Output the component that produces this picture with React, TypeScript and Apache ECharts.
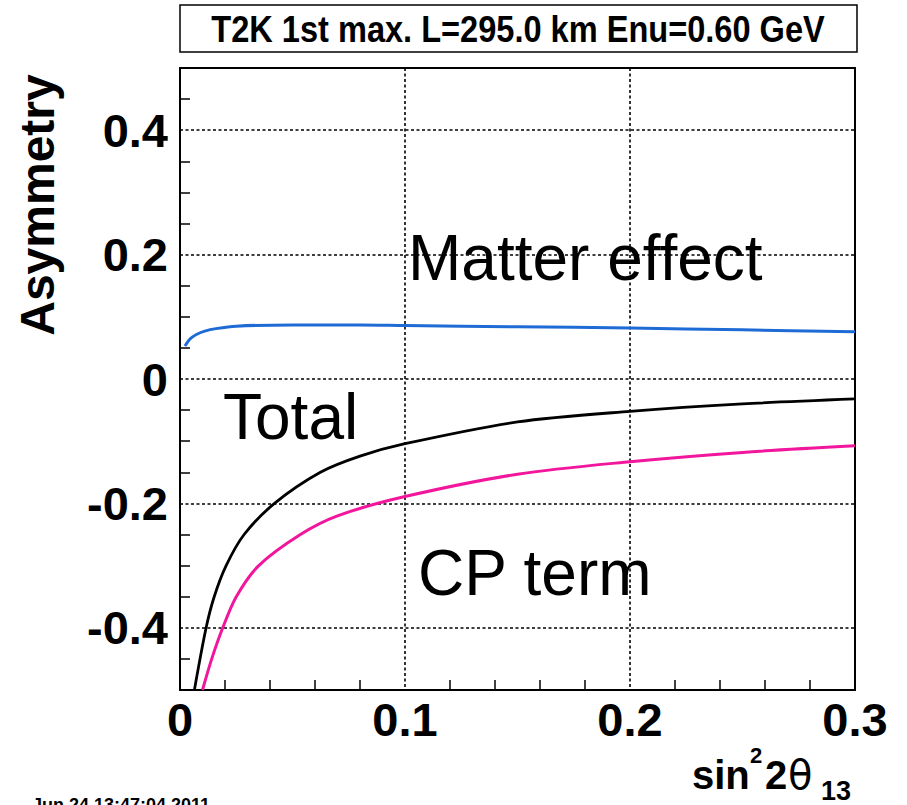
import React, { useEffect, useRef } from "react";
import * as echarts from "echarts";

// Matter effect (blue)
const matterX = [0.0022, 0.0035, 0.005, 0.0075, 0.011, 0.016, 0.025, 0.05, 0.08, 0.1, 0.15, 0.2, 0.25, 0.3];
const matterY = [0.053, 0.060, 0.066, 0.072, 0.077, 0.081, 0.085, 0.087, 0.087, 0.086, 0.084, 0.082, 0.079, 0.076];

// Total (black)
const totalX = [0.0064, 0.0116, 0.0152, 0.0205, 0.0285, 0.042, 0.0624, 0.08, 0.1, 0.15, 0.2, 0.25, 0.3];
const totalY = [-0.5, -0.4, -0.35, -0.3, -0.25, -0.2, -0.15, -0.124, -0.104, -0.069, -0.052, -0.04, -0.032];

// CP term (magenta)
const cpX = [0.0100, 0.0141, 0.0190, 0.0250, 0.0350, 0.0535, 0.070, 0.1, 0.15, 0.2, 0.25, 0.3];
const cpY = [-0.5, -0.45, -0.4, -0.35, -0.3, -0.25, -0.22, -0.189, -0.153, -0.133, -0.118, -0.1075];

const xTickLabels = [0, 0.1, 0.2, 0.3];
const yTickLabels = [-0.4, -0.2, 0, 0.2, 0.4];

const titleText = "T2K 1st max. L=295.0 km Enu=0.60 GeV";
const yTitle = "Asymmetry";
const dateText = "Jun 24 13:47:04 2011";

const zip = (xs: number[], ys: number[]) => xs.map((x, i) => [x, ys[i]]);
const FONT = '"Liberation Sans", Arial, Helvetica, sans-serif';

export default function App() {
  const ref = useRef<HTMLDivElement>(null);
  useEffect(() => {
    if (!ref.current) return;
    const chart = echarts.init(ref.current, null, { renderer: "svg" });
    const labelStyle = {
      fontSize: 47,
      fontWeight: "bold" as const,
      fontFamily: FONT,
      color: "#000",
    };
    const gridLine = { show: true, lineStyle: { color: "#000", width: 1.6, type: [3, 2.5] as any } };
    const tickStyle = { color: "#000", width: 1.5 };
    const SMOOTH = 0.3;
    chart.setOption({
      animation: false,
      backgroundColor: "#fff",
      grid: {
        left: 180,
        right: 52,
        top: 68,
        bottom: 115,
        show: true,
        borderColor: "#000",
        borderWidth: 2,
        backgroundColor: "transparent",
      },
      xAxis: {
        type: "value",
        min: xTickLabels[0],
        max: xTickLabels[xTickLabels.length - 1],
        interval: 0.1,
        axisLine: { show: false, onZero: false },
        axisTick: { show: false, inside: true },
        minorTick: { show: true, splitNumber: 5, length: 10, lineStyle: tickStyle },
        splitLine: gridLine,
        axisLabel: { ...labelStyle, margin: 6, formatter: (v: number) => String(+v.toFixed(2)) },
      },
      yAxis: {
        type: "value",
        min: -0.5,
        max: 0.5,
        splitNumber: 5,
        axisLine: { show: false, onZero: false },
        axisTick: { show: false, inside: true },
        minorTick: { show: true, splitNumber: 4, length: 10, lineStyle: tickStyle },
        splitLine: gridLine,
        axisLabel: {
          ...labelStyle,
          margin: 12,
          showMinLabel: false,
          showMaxLabel: false,
          formatter: (v: number) => {
            const r = +v.toFixed(2);
            return yTickLabels.includes(r) ? String(r) : "";
          },
        },
      },
      series: [
        {
          name: "Matter effect",
          type: "line",
          data: zip(matterX, matterY),
          smooth: SMOOTH,
          showSymbol: false,
          lineStyle: { color: "#1f6bd6", width: 3 },
        },
        {
          name: "Total",
          type: "line",
          data: zip(totalX, totalY),
          smooth: SMOOTH,
          showSymbol: false,
          lineStyle: { color: "#000", width: 2.8 },
        },
        {
          name: "CP term",
          type: "line",
          data: zip(cpX, cpY),
          smooth: SMOOTH,
          showSymbol: false,
          lineStyle: { color: "#f2169d", width: 3 },
        },
      ],
      graphic: [
        {
          type: "rect",
          shape: { x: 180, y: 5, width: 677, height: 47 },
          style: { fill: "#fff", stroke: "#000", lineWidth: 1.5 },
        },
        {
          type: "text",
          x: 518,
          y: 29,
          scaleX: 0.88,
          style: {
            text: titleText,
            font: `bold 37px ${FONT}`,
            fill: "#000",
            textAlign: "center",
            textVerticalAlign: "middle",
          },
        },
        {
          type: "text",
          x: 37,
          y: 205,
          rotation: Math.PI / 2,
          style: {
            text: yTitle,
            font: `bold 48px ${FONT}`,
            fill: "#000",
            textAlign: "center",
            textVerticalAlign: "middle",
          },
        },
        {
          type: "text",
          x: 408,
          y: 258,
          style: { text: "Matter effect", font: `64px ${FONT}`, fill: "#000", textAlign: "left", textVerticalAlign: "middle" },
        },
        {
          type: "text",
          x: 223,
          y: 417,
          style: { text: "Total", font: `64px ${FONT}`, fill: "#000", textAlign: "left", textVerticalAlign: "middle" },
        },
        {
          type: "text",
          x: 418,
          y: 573,
          style: { text: "CP term", font: `64px ${FONT}`, fill: "#000", textAlign: "left", textVerticalAlign: "middle" },
        },
        // x axis title: sin^2 2theta_13
        {
          type: "text",
          x: 692,
          y: 775,
          style: { text: "sin", font: `bold 40px ${FONT}`, fill: "#000", textAlign: "left", textVerticalAlign: "middle" },
        },
        {
          type: "text",
          x: 750,
          y: 755,
          style: { text: "2", font: `bold 22px ${FONT}`, fill: "#000", textAlign: "left", textVerticalAlign: "middle" },
        },
        {
          type: "text",
          x: 765,
          y: 775,
          style: { text: "2", font: `bold 40px ${FONT}`, fill: "#000", textAlign: "left", textVerticalAlign: "middle" },
        },
        {
          type: "text",
          x: 788,
          y: 775,
          style: { text: "θ", font: `40px "DejaVu Sans", sans-serif`, fill: "#000", textAlign: "left", textVerticalAlign: "middle" },
        },
        {
          type: "text",
          x: 821,
          y: 791,
          style: { text: "13", font: `bold 27px ${FONT}`, fill: "#000", textAlign: "left", textVerticalAlign: "middle" },
        },
        {
          type: "text",
          x: 32,
          y: 805,
          style: { text: dateText, font: `bold 18px ${FONT}`, fill: "#000", textAlign: "left", textVerticalAlign: "middle" },
        },
      ],
    });
    return () => chart.dispose();
  }, []);
  return (
    <div
      ref={ref}
      style={{ position: "fixed", left: 0, top: 0, width: 907, height: 805, background: "#fff" }}
    />
  );
}
